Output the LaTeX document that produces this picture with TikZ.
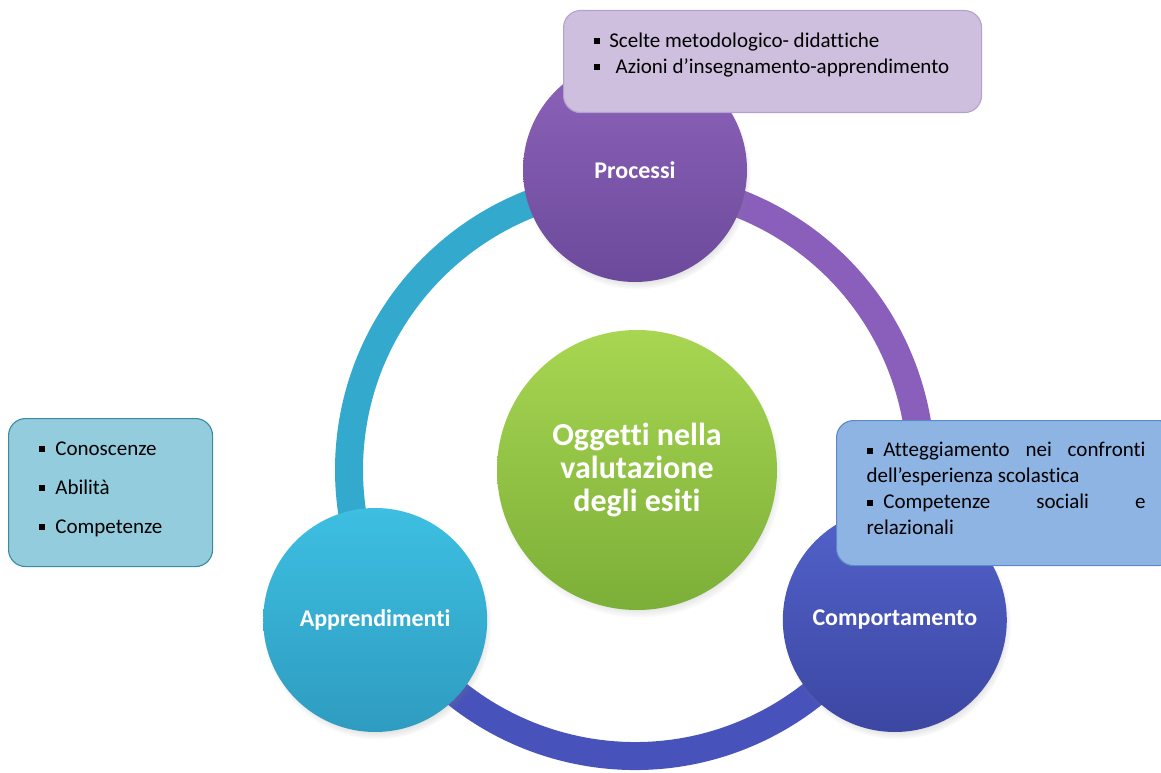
\documentclass[tikz,border=0pt]{standalone}
\usepackage{fontspec}
\setmainfont[Ligatures=NoCommon]{Carlito}
\usetikzlibrary{shadows}
\newcommand{\sqbul}[1][0.45em]{\rule[0.14em]{0.3em}{0.3em}\hspace{#1}}
\definecolor{ringCyan}{HTML}{33A9CE}
\definecolor{ringPurple}{HTML}{8A5FBC}
\definecolor{ringBlue}{HTML}{4753BA}
\definecolor{compTop}{HTML}{5262CA}
\definecolor{compBot}{HTML}{3C47A2}
\definecolor{apprTop}{HTML}{3DBFE2}
\definecolor{apprBot}{HTML}{2E9CC0}
\definecolor{procTop}{HTML}{8D63BA}
\definecolor{procBot}{HTML}{6C4A9B}
\definecolor{oggTop}{HTML}{A8D652}
\definecolor{oggBot}{HTML}{7CAF38}
\definecolor{procFill}{HTML}{CDBFDD}
\definecolor{procLine}{HTML}{B4A2CE}
\definecolor{compFill}{HTML}{8EB4E3}
\definecolor{compLine}{HTML}{5B8ACB}
\definecolor{apprFill}{HTML}{93CDDD}
\definecolor{apprLine}{HTML}{3A8AA0}

\begin{document}
\begin{tikzpicture}[x=1pt,y=1pt]
\tikzstyle{Ball}=[circle, minimum size=224pt, inner sep=0pt, text=white,
  font=\fontsize{24}{28}\selectfont\bfseries,
  circular drop shadow={shadow xshift=2pt, shadow yshift=-5pt, opacity=0.45, shadow scale=1.02}];
\tikzstyle{Note}=[draw, rounded corners=17pt, line width=1.1pt, anchor=north west,
  inner xsep=30pt, inner ysep=22pt, font=\fontsize{21}{26}\selectfont];
\tikzstyle{ring}=[line width=28pt];
\useasboundingbox (0,0) rectangle (1161,772);
\fill[white] (0,0) rectangle (1161,772);
% the ring
\coordinate (c) at (635,302);
\draw [ring, ringCyan] ([shift={(90:286)}]c) arc (90:210:286);
\draw [ring, ringPurple] ([shift={(-30:286)}]c) arc (-30:90:286);
\draw [ring, ringBlue] ([shift={(210:286)}]c) arc (210:330:286);
% the circles
\node [Ball, top color=compTop, bottom color=compBot] (comp) at ([shift={(-30:300)}]c) {Comportamento};
\node [Ball, top color=apprTop, bottom color=apprBot] (appr) at ([shift={(210:300)}]c) {Apprendimenti};
\node [Ball, top color=procTop, bottom color=procBot] (proc) at ([shift={(90:300)}]c) {Processi};
\node [Ball, minimum size=280pt, top color=oggTop, bottom color=oggBot,
  font=\fontsize{32}{33}\selectfont\bfseries, align=center] (ogg) at (637,302)
  {Oggetti nella\\valutazione\\degli esiti};
% the notes
\node [Note, fill=procFill, draw=procLine] (procnote) at (563,762)
  {\parbox[c][58pt][t]{358pt}{\sqbul Scelte metodologico- didattiche\\
  \sqbul[0.75em]Azioni d’insegnamento-apprendimento}};
\node [Note, fill=compFill, draw=compLine] (compnote) at (836,352)
  {\parbox[c][101pt][t]{279pt}{\sqbul[0.5em]Atteggiamento nei confronti\linebreak
  dell’esperienza scolastica\\
  \sqbul[0.5em]Competenze sociali e\linebreak relazionali}};
\node [Note, fill=apprFill, draw=apprLine, inner xsep=30pt, inner ysep=23pt] (apprnote) at (8,354)
  {\parbox[c][102pt][t]{144pt}{\sqbul[0.5em]Conoscenze\\[13pt]
  \sqbul[0.5em]Abilità\\[13pt]
  \sqbul[0.5em]Competenze}};
\end{tikzpicture}
\end{document}
